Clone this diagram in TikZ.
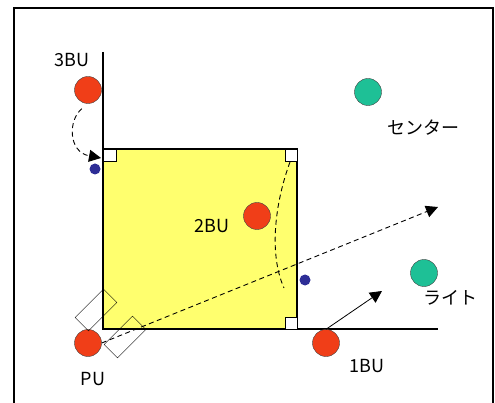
\documentclass[tikz,border=0pt]{standalone}
\usepackage{fontspec}
\setmainfont{Noto Sans CJK JP}
\usetikzlibrary{arrows.meta,positioning,shapes}
\definecolor{bured}{RGB}{240,62,24}
\definecolor{ofgreen}{RGB}{30,192,150}
\definecolor{infield}{RGB}{255,255,110}
\definecolor{basedot}{RGB}{45,45,150}

\begin{document}
\begin{tikzpicture}[x=1pt, y=-1pt,
  player/.style={circle, draw=black!75, thin, minimum size=27pt, inner sep=0pt},
  bdot/.style={circle, fill=basedot, minimum size=11pt, inner sep=0pt},
  lbl/.style={font=\fontsize{18}{20}\selectfont, inner sep=0pt},
  glove/.style={draw, thin, rotate=45, minimum width=40pt, minimum height=19pt, inner sep=0pt},
  arr/.style={-{Triangle[length=12pt,width=12pt]}, line width=0.8pt},
  track/.style={dash pattern=on 5pt off 3.5pt, line width=0.9pt},
]
\useasboundingbox (0,0) rectangle (495,403);
\draw[line width=2pt] (14,403) -- (14,8) -- (493,8) -- (493,403);

% infield and foul lines
\filldraw[fill=infield, line width=1.4pt] (103,149) rectangle (297,329);
\draw[line width=1.4pt] (103,52) -- (103,329) -- (438,329);
\draw[fill=white] (103,149) rectangle (116,161);
\draw[fill=white] (285,149) rectangle (297,161);
\draw[fill=white] (285,317) rectangle (297,329);

\node[bdot] (d3) at (95,169) {};
\node[bdot] (d1) at (305,280) {};

% players
\node[player, fill=bured] (third) at (88,90) {};
\node[player, fill=bured] (second) at (257,216) {};
\node[player, fill=bured] (first) at (326,343) {};
\node[player, fill=bured] (pu) at (88,343) {};
\node[player, fill=ofgreen] (cf) at (368,92) {};
\node[player, fill=ofgreen] (rf) at (424,273) {};
\node[glove] (g1) at (96,310) {};
\node[glove] (g2) at (125,337) {};

\node[lbl] (l3) at (72,60) {3BU};
\node[lbl] (l2) at (212,226) {2BU};
\node[lbl] (l1) at (367,366) {1BU};
\node[lbl] (lp) at (93,379) {PU};
\node[lbl] (lc) at (423,128) {センター};
\node[lbl] (lr) at (450,298) {ライト};

\coordinate (cover) at (101,158);
\coordinate (drop) at (290,162);
\coordinate (cut) at (284,288);
\coordinate (deep) at (438,207);
\coordinate (run) at (382,291);

\draw[arr, track, shorten <=8pt] (third.south) .. controls (68,120) and (68,152) .. (cover);
\draw[track] (drop) .. controls (276,200) and (268,252) .. (cut);
\draw[arr, track] (pu.east) -- (deep);
\draw[arr] (first.north) -- (run);
\end{tikzpicture}
\end{document}
